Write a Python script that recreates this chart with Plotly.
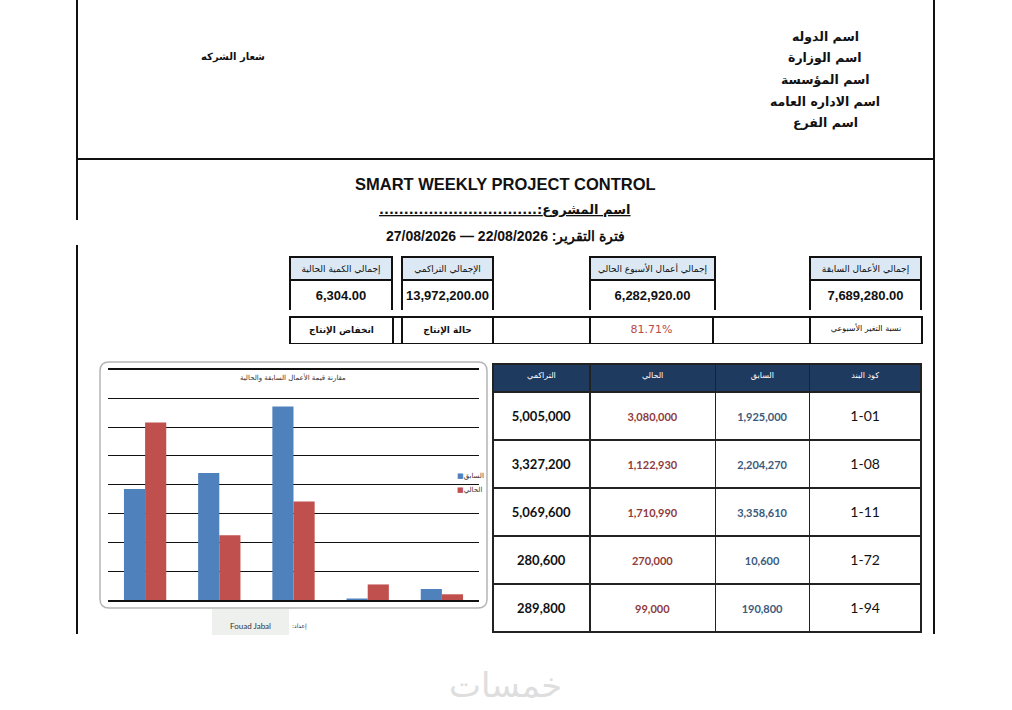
### Import Libraries
import plotly.graph_objects as go
####End of importing libraries

W, H = 1012, 710

# ---- data ----
item_codes = ["1-01", "1-08", "1-11", "1-72", "1-94"]
prev_values = [1925000, 2204270, 3358610, 10600, 190800]
curr_values = [3080000, 1122930, 1710990, 270000, 99000]
cum_values = [5005000, 3327200, 5069600, 280600, 289800]

table_headers = ["التراكمي", "الحالي", "السابق", "كود البند"]

summary_labels = ["إجمالي الكمية الحالية", "الإجمالي التراكمي",
                  "إجمالي أعمال الأسبوع الحالي", "إجمالي الأعمال السابقة"]
summary_values = [6304.00, 13972200.00, 6282920.00, 7689280.00]

status_row = ["انخفاض الإنتاج", "", "حالة الإنتاج", "", "81.71%", "", "نسبة التغير الأسبوعي"]

header_lines = ["اسم الدوله", "اسم الوزارة", "اسم المؤسسة", "اسم الاداره العامه", "اسم الفرع"]
series_names = ["السابق", "الحالي"]
series_colors = ["#4f81bd", "#c0504d"]
chart_title = "مقارنة قيمة الأعمال السابقة والحالية"


def px(x):
    return x / W


def py(y):
    return 1 - y / H


# push the text of a tall table cell down towards the middle of the row
def mid(txt, size, bold=False):
    s = f"<span style='font-size:{size}px'>{txt}</span>"
    if bold:
        s = f"<b>{s}</b>"
    return "\u00a0<br>" + s


fig = go.Figure()

# Bar chart (left block)
for name, vals, col in zip(series_names, [prev_values, curr_values], series_colors):
    fig.add_trace(go.Bar(x=item_codes, y=vals, name=name, showlegend=False,
                         marker=dict(color=col, line=dict(width=0))))

# Main table (right block)
fig.add_trace(go.Table(
    domain=dict(x=[px(493), px(922)], y=[py(640), py(364)]),
    columnwidth=[97, 126, 94, 112],
    header=dict(values=table_headers, fill_color="#1f3a5f", height=28,
                line=dict(color="#222", width=1.5),
                font=dict(color="white", size=8, family="DejaVu Sans")),
    cells=dict(values=[[mid(f"{v:,}", 13, True) for v in cum_values],
                       [mid(f"{v:,}", 11, True) for v in curr_values],
                       [mid(f"{v:,}", 11, True) for v in prev_values],
                       [mid(c, 14) for c in item_codes]],
               height=48, fill_color="white",
               line=dict(color="#222", width=1.5),
               font=dict(family="Lato", size=9.5,
                         color=["#111", "#8e3b3b", "#3b5b7c", "#111"])),
))

# Summary boxes
box_x = [(290, 393), (402, 493), (590, 715), (810, 922)]
for (x0, x1), lab, val in zip(box_x, summary_labels, summary_values):
    fig.add_trace(go.Table(
        domain=dict(x=[px(x0), px(x1)], y=[py(310), py(257)]),
        header=dict(values=[lab.replace(" ", "\u00a0")], fill_color="#dce8f4", height=23,
                    line=dict(color="#111", width=1.5),
                    font=dict(color="#111", size=9, family="DejaVu Sans")),
        cells=dict(values=[[f"<b>{val:,.2f}</b>"]], height=25, fill_color="white",
                   line=dict(color="#111", width=1.5),
                   font=dict(color="#111", size=13, family="Liberation Sans")),
    ))

# Status strip
fig.add_trace(go.Table(
    domain=dict(x=[px(290), px(922)], y=[py(345), py(317)]),
    columnwidth=[103, 9, 91, 97, 123, 97, 112],
    header=dict(values=[f"<b>{s}</b>" if s and i < 4 else s for i, s in enumerate(status_row)],
                fill_color="white", height=24,
                line=dict(color="#111", width=1.5),
                font=dict(size=[9, 9, 9, 9, 11, 9, 8], family="DejaVu Sans",
                          color=["#111", "#111", "#111", "#111", "#b94a48", "#111", "#111"])),
    cells=dict(values=[[] for _ in status_row], height=1),
))

shapes = []
# page frame lines
for (x0, y0, x1, y1) in [(77, 0, 77, 220), (77, 245, 77, 634), (934, 0, 934, 634), (77, 159, 934, 159)]:
    shapes.append(dict(type="line", xref="paper", yref="paper", x0=px(x0), y0=py(y0),
                       x1=px(x1), y1=py(y1), line=dict(color="#111", width=2)))

# rounded chart frame
r = 9
l, t, rr, b = px(100), py(362), px(487), py(608)
dx, dy = r / W, r / H
path = (f"M {l+dx},{t} L {rr-dx},{t} Q {rr},{t} {rr},{t-dy} L {rr},{b+dy} Q {rr},{b} {rr-dx},{b} "
        f"L {l+dx},{b} Q {l},{b} {l},{b+dy} L {l},{t-dy} Q {l},{t} {l+dx},{t} Z")
shapes.append(dict(type="path", xref="paper", yref="paper", path=path,
                   line=dict(color="#b5b5b5", width=1.5), layer="below"))

# prepared-by box
shapes.append(dict(type="rect", xref="paper", yref="paper", x0=px(212), x1=px(289),
                   y0=py(635), y1=py(609), fillcolor="#eef0ee", line=dict(width=0)))

annotations = []
for i, txt in enumerate(header_lines):
    annotations.append(dict(text=f"<b>{txt}</b>", x=px(825), y=py(36 + i * 21.7),
                            font=dict(size=12.5, color="#111", family="DejaVu Sans")))
annotations += [
    dict(text="<b>شعار الشركه</b>", x=px(233), y=py(57), font=dict(size=10, color="#111", family="DejaVu Sans")),
    dict(text="<b>SMART WEEKLY PROJECT CONTROL</b>", x=px(505), y=py(184),
         font=dict(size=16.5, color="#111", family="Liberation Sans")),
    dict(text="<b><u>................................:اسم المشروع</u></b>", x=px(505), y=py(209),
         font=dict(size=13, color="#111", family="DejaVu Sans")),
    dict(text="<b>27/08/2026 — 22/08/2026 :فترة التقرير</b>", x=px(505), y=py(236),
         font=dict(size=14, color="#111", family="Liberation Sans")),
    dict(text=chart_title, x=px(293), y=py(378), font=dict(size=7, color="#333", family="DejaVu Sans")),
    dict(text="Fouad Jabal", x=px(250), y=py(626), font=dict(size=8, color="#333", family="Lato")),
    dict(text=":إعداد", x=px(299), y=py(626), font=dict(size=6, color="#333", family="DejaVu Sans")),
    dict(text="خمسات", x=px(505), y=py(685), font=dict(size=34, color="#dedede", family="DejaVu Sans")),
]
# legend of the chart
for i, (name, col) in enumerate(zip(series_names, series_colors)):
    annotations.append(dict(text=f"<span style='color:{col}'>■</span>{name}", x=px(455), y=py(476 + i * 14),
                            xanchor="left", font=dict(size=7, color="#333", family="DejaVu Sans")))
for a in annotations:
    a.setdefault("xref", "paper")
    a.setdefault("yref", "paper")
    a.setdefault("xanchor", "center")
    a.setdefault("yanchor", "middle")
    a.setdefault("showarrow", False)

fig.update_layout(
    width=W, height=H,
    margin=dict(l=0, r=0, t=0, b=0),
    paper_bgcolor="white", plot_bgcolor="white",
    barmode="group", bargap=0.43, bargroupgap=0,
    shapes=shapes, annotations=annotations,
    showlegend=False,
    xaxis=dict(domain=[px(108), px(479)], showticklabels=False, showgrid=False,
               showline=True, linecolor="#111", linewidth=1.5, mirror=True, ticks=""),
    yaxis=dict(domain=[py(600), py(369.5)], range=[0, 4000000], dtick=500000,
               showticklabels=False, showgrid=True, gridcolor="#111", gridwidth=1.2,
               zeroline=False, showline=False, ticks=""),
)

fig.write_html("out.html", config={"displayModeBar": False},
               post_script="document.body.style.margin='0';")
